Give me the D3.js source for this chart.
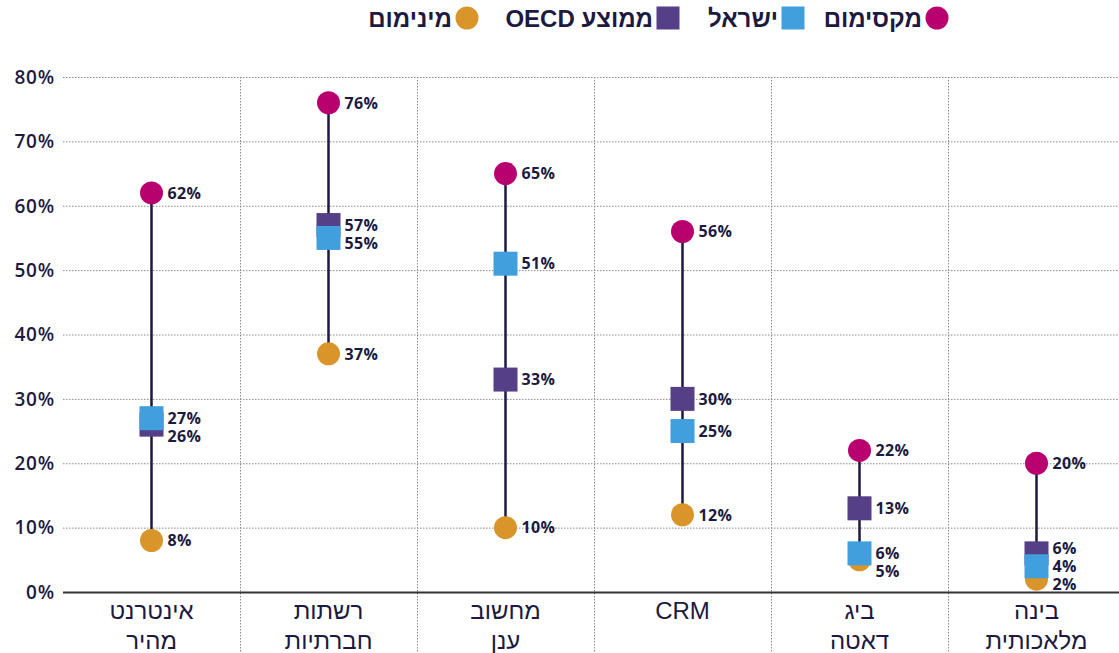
<!DOCTYPE html>
<html lang="he">
<head>
<meta charset="UTF-8">
<title>Dumbbell chart</title>
<script src="https://d3js.org/d3.v7.min.js"></script>
<style>
    body { margin: 0; background: #fff; }
    .grid line { stroke: #8a8a8a; stroke-dasharray: 1.5 1.5; stroke-width: 1; }
    .ytick text { font-family: "Open Sans", sans-serif; font-weight: 600; font-size: 19px; letter-spacing: 0.8px; fill: #1c1a40; }
    .xlab { font-family: "Liberation Sans", Arial, sans-serif; font-size: 24px; fill: #1c1a40; }
    .val { font-family: "Open Sans", sans-serif; font-weight: 700; font-size: 16px; letter-spacing: 0.4px; fill: #1c1a40; }
    .legend text { font-family: "Liberation Sans", Arial, sans-serif; font-weight: 700; font-size: 24px; fill: #1c1a40; }
</style>
</head>
<body>
<svg id="chart"></svg>
<script>
// categories (left to right), each label split into lines
var categories = [["אינטרנט", "מהיר"], ["רשתות", "חברתיות"], ["מחשוב", "ענן"], ["CRM"], ["ביג", "דאטה"], ["בינה", "מלאכותית"]];
var maxValues    = [62, 76, 65, 56, 22, 20];
var israelValues = [27, 55, 51, 25, 6, 4];
var oecdValues   = [26, 57, 33, 30, 13, 6];
var minValues    = [8, 37, 10, 12, 5, 2];
var yTicks = [0, 10, 20, 30, 40, 50, 60, 70, 80];

var series = [
    { name: "מינימום", values: minValues, color: "#d9952a", shape: "circle" },
    { name: "מקסימום", values: maxValues, color: "#b8006f", shape: "circle" },
    { name: "ממוצע OECD", values: oecdValues, color: "#553f87", shape: "square" },
    { name: "ישראל", values: israelValues, color: "#419fdd", shape: "square" }
];
var legendOrder = ["מקסימום", "ישראל", "ממוצע OECD", "מינימום"];

var W = 1119, H = 653;
var svg = d3.select("#chart").attr("width", W).attr("height", H);

var x = d3.scaleBand().domain(d3.range(categories.length)).range([63, 1125]);
var y = d3.scaleLinear().domain([0, 80]).range([592, 77]);
var cx = function(i) { return x(i) + x.bandwidth() / 2; };

// horizontal grid
var grid = svg.append("g").attr("class", "grid");
grid.selectAll(".h").data(yTicks.filter(function(t) { return t > 0; })).enter()
    .append("line")
    .attr("x1", 63).attr("x2", W)
    .attr("y1", function(d) { return y(d) + 0.5; }).attr("y2", function(d) { return y(d) + 0.5; });
// vertical dividers between categories
grid.selectAll(".v").data(d3.range(1, categories.length)).enter()
    .append("line")
    .attr("x1", function(i) { return Math.round(x(i)) + 0.5; })
    .attr("x2", function(i) { return Math.round(x(i)) + 0.5; })
    .attr("y1", y(80)).attr("y2", H);

// y labels
svg.append("g").attr("class", "ytick").selectAll("text").data(yTicks).enter()
    .append("text")
    .attr("x", 55).attr("y", function(d) { return y(d); })
    .attr("dy", "0.36em").attr("text-anchor", "end")
    .text(function(d) { return d + "%"; });

// baseline
svg.append("line").attr("x1", 63).attr("x2", W).attr("y1", y(0) + 0.5).attr("y2", y(0) + 0.5)
    .attr("stroke", "#333").attr("stroke-width", 2);

// x labels
svg.selectAll(".xlab").data(categories).enter()
    .append("text").attr("class", "xlab")
    .attr("text-anchor", "middle")
    .attr("transform", function(d, i) { return "translate(" + cx(i) + ",619)"; })
    .selectAll("tspan").data(function(d) { return d; }).enter()
    .append("tspan").attr("x", 0).attr("dy", function(d, j) { return j === 0 ? 0 : 30; })
    .text(function(d) { return d; });

// stems
svg.selectAll(".stem").data(categories).enter()
    .append("line")
    .attr("x1", function(d, i) { return cx(i); }).attr("x2", function(d, i) { return cx(i); })
    .attr("y1", function(d, i) { return y(maxValues[i]); })
    .attr("y2", function(d, i) { return y(minValues[i]); })
    .attr("stroke", "#1c1a40").attr("stroke-width", 2.5);

// markers
var size = 24;
series.forEach(function(s) {
    var g = svg.append("g");
    s.values.forEach(function(v, i) {
        if (s.shape === "circle") {
            g.append("circle").attr("cx", cx(i)).attr("cy", y(v)).attr("r", 11.5).attr("fill", s.color);
        } else {
            g.append("rect").attr("x", cx(i) - size / 2).attr("y", y(v) - size / 2)
                .attr("width", size).attr("height", size).attr("fill", s.color);
        }
    });
});

// value labels, pushed apart where they collide
categories.forEach(function(c, i) {
    var labs = series.map(function(s) { return { v: s.values[i], y: y(s.values[i]) }; })
        .sort(function(a, b) { return a.y - b.y; });
    var gap = 18;
    for (var k = 1; k < labs.length; k++) {
        if (labs[k].y - labs[k - 1].y < gap) labs[k].y = labs[k - 1].y + gap;
    }
    var bottom = y(0) - 8;
    if (labs[labs.length - 1].y > bottom) {
        labs[labs.length - 1].y = bottom;
        for (var k2 = labs.length - 2; k2 >= 0; k2--) {
            if (labs[k2 + 1].y - labs[k2].y < gap) labs[k2].y = labs[k2 + 1].y - gap;
        }
    }
    labs.forEach(function(l) {
        svg.append("text").attr("class", "val")
            .attr("x", cx(i) + 16).attr("y", l.y).attr("dy", "0.36em")
            .text(l.v + "%");
    });
});

// legend (right to left)
var legend = svg.append("g").attr("class", "legend");
var legendX = [937, 793, 668, 467];
legendOrder.forEach(function(name, k) {
    var s = series.find(function(d) { return d.name === name; });
    var g = legend.append("g").attr("transform", "translate(" + legendX[k] + ",18)");
    if (s.shape === "circle") {
        g.append("circle").attr("r", 11.5).attr("fill", s.color);
    } else {
        g.append("rect").attr("x", -11.5).attr("y", -11.5).attr("width", 23).attr("height", 23).attr("fill", s.color);
    }
    // direction rtl: "start" anchors the right edge of the text
    g.append("text").attr("x", -15).attr("dy", "0.36em").attr("text-anchor", "start")
        .attr("direction", "rtl").text(name);
});
</script>
</body>
</html>
